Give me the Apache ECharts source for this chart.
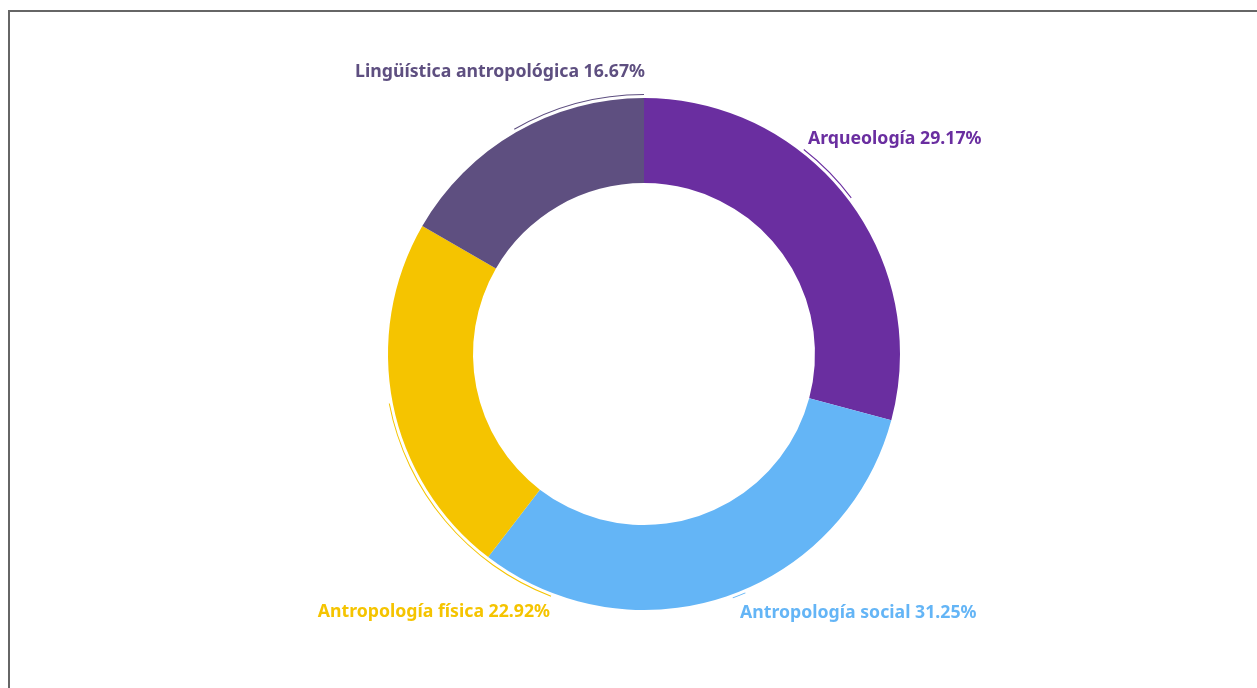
<!DOCTYPE html>
<html>
<head>
<meta charset="utf-8">
<script src="https://cdn.jsdelivr.net/npm/echarts@6/dist/echarts.min.js"></script>
<style>
  html, body { margin: 0; padding: 0; background: #fff; }
  #chart {
    position: absolute; left: 8px; top: 10px; width: 1249px; height: 678px;
    border-top: 2px solid #666; border-left: 2px solid #666; box-sizing: border-box;
  }
</style>
</head>
<body>
<div id="chart"></div>
<script>
  // shares of the four branches (count out of 48)
  var categories = ["Arqueología", "Antropología social", "Antropología física", "Lingüística antropológica"];
  var counts = [14, 15, 11, 8];
  var percents = ["29.17%", "31.25%", "22.92%", "16.67%"];
  var colors = ["#6a2ea0", "#64b5f6", "#f5c400", "#5e4f80"];

  // thin bracket arcs next to the labels, degrees clockwise from the top
  var arcSpans = [38, 15, 104, 3, 41, 58, 71, 30];
  var arcOwner = [-1, 0, -1, 1, -1, 2, -1, 3];

  // where each label sits (relative to the chart box)
  var labelSpots = [
    { x: 798, y: 127, align: "left" },
    { x: 730, y: 601, align: "left" },
    { x: 540, y: 600, align: "right" },
    { x: 635, y: 60, align: "right" }
  ];

  var chart = echarts.init(document.getElementById("chart"), null, { renderer: "canvas" });
  var center = [634, 342];

  chart.setOption({
    animation: false,
    series: [
      {
        type: "pie",
        radius: [171, 256],
        center: center,
        startAngle: 90,
        clockwise: true,
        silent: true,
        data: categories.map(function (c, i) {
          return { name: c, value: counts[i], itemStyle: { color: colors[i] } };
        }),
        label: {
          show: true,
          fontFamily: "Noto Sans",
          fontWeight: "bold",
          fontSize: 17.7,
          formatter: function (p) { return p.name + " " + percents[p.dataIndex]; },
          color: "inherit"
        },
        labelLine: { show: false },
        labelLayout: function (p) {
          var s = labelSpots[p.dataIndex];
          return { x: s.x, y: s.y, align: s.align, verticalAlign: "middle" };
        }
      },
      {
        type: "pie",
        radius: [259, 260],
        center: center,
        startAngle: 90,
        clockwise: true,
        silent: true,
        label: { show: false },
        labelLine: { show: false },
        data: arcSpans.map(function (v, i) {
          return {
            value: v,
            itemStyle: { color: arcOwner[i] < 0 ? "rgba(0,0,0,0)" : colors[arcOwner[i]] }
          };
        })
      }
    ]
  });
</script>
</body>
</html>
